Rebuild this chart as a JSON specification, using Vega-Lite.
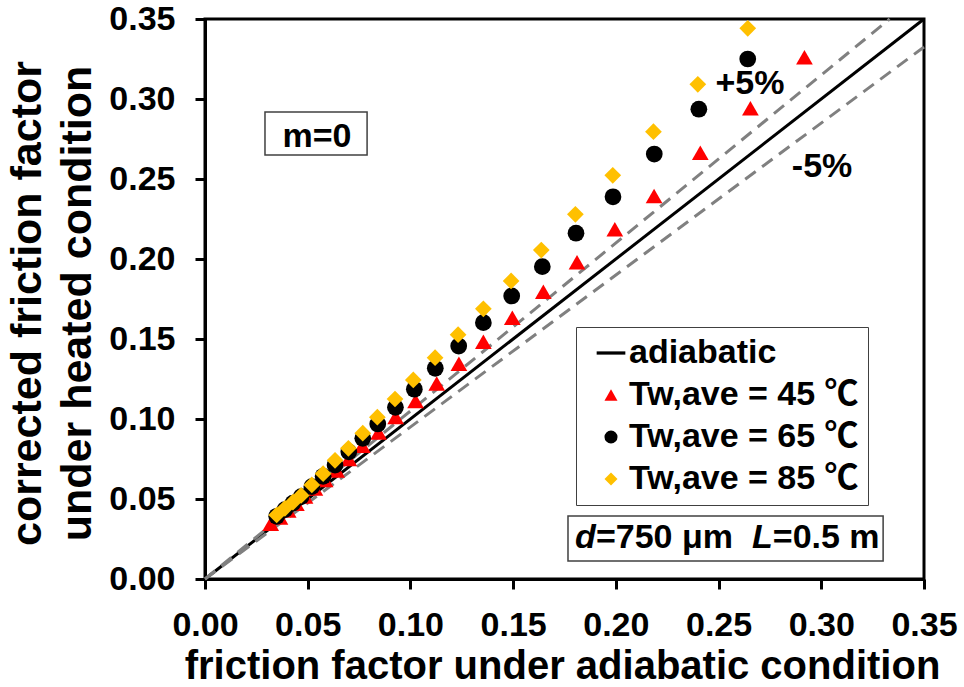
{
  "$schema": "https://vega.github.io/schema/vega-lite/v6.json",
  "width": 719,
  "height": 560,
  "autosize": "none",
  "padding": {"left": 205, "top": 19, "right": 40, "bottom": 108},
  "background": "white",
  "config": {
    "view": {"stroke": "black", "strokeWidth": 3},
    "font": "Liberation Sans",
    "axis": {
      "labelFont": "Liberation Sans",
      "labelFontSize": 34,
      "labelFontWeight": "bold",
      "labelColor": "black",
      "labelFlush": false,
      "labelOverlap": false,
      "titleFont": "Liberation Sans",
      "titleFontWeight": "bold",
      "titleColor": "black",
      "domainColor": "black",
      "domainWidth": 3,
      "tickColor": "black",
      "tickWidth": 3,
      "tickSize": 10,
      "grid": false
    }
  },
  "datasets": {
    "points": [
      {"series": "Tw,ave = 45 ℃", "x": 0.032, "y": 0.0345},
      {"series": "Tw,ave = 45 ℃", "x": 0.0365, "y": 0.0385},
      {"series": "Tw,ave = 45 ℃", "x": 0.0405, "y": 0.0428},
      {"series": "Tw,ave = 45 ℃", "x": 0.0445, "y": 0.047},
      {"series": "Tw,ave = 45 ℃", "x": 0.0487, "y": 0.0515},
      {"series": "Tw,ave = 45 ℃", "x": 0.0535, "y": 0.0565},
      {"series": "Tw,ave = 45 ℃", "x": 0.0585, "y": 0.0618},
      {"series": "Tw,ave = 45 ℃", "x": 0.0641, "y": 0.0678},
      {"series": "Tw,ave = 45 ℃", "x": 0.07, "y": 0.075},
      {"series": "Tw,ave = 45 ℃", "x": 0.0766, "y": 0.0833},
      {"series": "Tw,ave = 45 ℃", "x": 0.0845, "y": 0.0916},
      {"series": "Tw,ave = 45 ℃", "x": 0.0928, "y": 0.1012},
      {"series": "Tw,ave = 45 ℃", "x": 0.1025, "y": 0.1112},
      {"series": "Tw,ave = 45 ℃", "x": 0.1128, "y": 0.1222},
      {"series": "Tw,ave = 45 ℃", "x": 0.1236, "y": 0.1345},
      {"series": "Tw,ave = 45 ℃", "x": 0.1355, "y": 0.1483},
      {"series": "Tw,ave = 45 ℃", "x": 0.1496, "y": 0.1633},
      {"series": "Tw,ave = 45 ℃", "x": 0.1647, "y": 0.1796},
      {"series": "Tw,ave = 45 ℃", "x": 0.1811, "y": 0.1979},
      {"series": "Tw,ave = 45 ℃", "x": 0.1995, "y": 0.2186},
      {"series": "Tw,ave = 45 ℃", "x": 0.2186, "y": 0.2394},
      {"series": "Tw,ave = 45 ℃", "x": 0.2411, "y": 0.2664},
      {"series": "Tw,ave = 45 ℃", "x": 0.2655, "y": 0.2942},
      {"series": "Tw,ave = 45 ℃", "x": 0.2918, "y": 0.3261},
      {"series": "Tw,ave = 65 ℃", "x": 0.0349, "y": 0.0392},
      {"series": "Tw,ave = 65 ℃", "x": 0.0389, "y": 0.0434},
      {"series": "Tw,ave = 65 ℃", "x": 0.0428, "y": 0.0474},
      {"series": "Tw,ave = 65 ℃", "x": 0.0468, "y": 0.0515},
      {"series": "Tw,ave = 65 ℃", "x": 0.052, "y": 0.0577},
      {"series": "Tw,ave = 65 ℃", "x": 0.0575, "y": 0.0642},
      {"series": "Tw,ave = 65 ℃", "x": 0.0633, "y": 0.0712},
      {"series": "Tw,ave = 65 ℃", "x": 0.07, "y": 0.0795},
      {"series": "Tw,ave = 65 ℃", "x": 0.0768, "y": 0.0879},
      {"series": "Tw,ave = 65 ℃", "x": 0.0841, "y": 0.0969},
      {"series": "Tw,ave = 65 ℃", "x": 0.0927, "y": 0.1073},
      {"series": "Tw,ave = 65 ℃", "x": 0.1019, "y": 0.1186},
      {"series": "Tw,ave = 65 ℃", "x": 0.1121, "y": 0.1317},
      {"series": "Tw,ave = 65 ℃", "x": 0.1235, "y": 0.1456},
      {"series": "Tw,ave = 65 ℃", "x": 0.1355, "y": 0.1602},
      {"series": "Tw,ave = 65 ℃", "x": 0.1493, "y": 0.1769},
      {"series": "Tw,ave = 65 ℃", "x": 0.1642, "y": 0.1952},
      {"series": "Tw,ave = 65 ℃", "x": 0.1806, "y": 0.2161},
      {"series": "Tw,ave = 65 ℃", "x": 0.1986, "y": 0.2389},
      {"series": "Tw,ave = 65 ℃", "x": 0.2187, "y": 0.2656},
      {"series": "Tw,ave = 65 ℃", "x": 0.2404, "y": 0.2936},
      {"series": "Tw,ave = 65 ℃", "x": 0.2642, "y": 0.325},
      {"series": "Tw,ave = 85 ℃", "x": 0.0349, "y": 0.04},
      {"series": "Tw,ave = 85 ℃", "x": 0.0389, "y": 0.0442},
      {"series": "Tw,ave = 85 ℃", "x": 0.0428, "y": 0.048},
      {"series": "Tw,ave = 85 ℃", "x": 0.0468, "y": 0.0522},
      {"series": "Tw,ave = 85 ℃", "x": 0.052, "y": 0.0588},
      {"series": "Tw,ave = 85 ℃", "x": 0.0575, "y": 0.0658},
      {"series": "Tw,ave = 85 ℃", "x": 0.0633, "y": 0.0742},
      {"series": "Tw,ave = 85 ℃", "x": 0.0698, "y": 0.0817},
      {"series": "Tw,ave = 85 ℃", "x": 0.0768, "y": 0.0911},
      {"series": "Tw,ave = 85 ℃", "x": 0.0839, "y": 0.1011},
      {"series": "Tw,ave = 85 ℃", "x": 0.0925, "y": 0.1125},
      {"series": "Tw,ave = 85 ℃", "x": 0.1014, "y": 0.1244},
      {"series": "Tw,ave = 85 ℃", "x": 0.112, "y": 0.1383},
      {"series": "Tw,ave = 85 ℃", "x": 0.1232, "y": 0.1527},
      {"series": "Tw,ave = 85 ℃", "x": 0.1355, "y": 0.1689},
      {"series": "Tw,ave = 85 ℃", "x": 0.149, "y": 0.1863},
      {"series": "Tw,ave = 85 ℃", "x": 0.1637, "y": 0.2056},
      {"series": "Tw,ave = 85 ℃", "x": 0.1803, "y": 0.2279},
      {"series": "Tw,ave = 85 ℃", "x": 0.1985, "y": 0.2523},
      {"series": "Tw,ave = 85 ℃", "x": 0.2183, "y": 0.2796},
      {"series": "Tw,ave = 85 ℃", "x": 0.2399, "y": 0.3092},
      {"series": "Tw,ave = 85 ℃", "x": 0.2642, "y": 0.3442}
    ],
    "lines": [
      {"line": "adiabatic", "x": 0, "y": 0},
      {"line": "adiabatic", "x": 0.35, "y": 0.35},
      {"line": "+5%", "x": 0, "y": 0},
      {"line": "+5%", "x": 0.3333, "y": 0.35},
      {"line": "-5%", "x": 0, "y": 0},
      {"line": "-5%", "x": 0.35, "y": 0.3325}
    ],
    "boxes": [
      {"box": "m", "x1": 0.0292, "x2": 0.0789, "y1": 0.2919, "y2": 0.265},
      {"box": "d", "x1": 0.1767, "x2": 0.3301, "y1": 0.0394, "y2": 0.0113}
    ],
    "labels": [
      {"text": "+5%", "x": 0.2653, "y": 0.3094},
      {"text": "-5%", "x": 0.3004, "y": 0.2575},
      {"text": "m=0", "x": 0.0545, "y": 0.2765}
    ],
    "dtext": [
      {"text": "d", "style": "italic", "x": 0.1801, "y": 0.0256},
      {"text": "=750 μm", "style": "normal", "x": 0.1903, "y": 0.0256},
      {"text": "L", "style": "italic", "x": 0.2663, "y": 0.0256},
      {"text": "=0.5 m", "style": "normal", "x": 0.2764, "y": 0.0256}
    ]
  },
  "layer": [
    {
      "data": {"name": "boxes"},
      "mark": {"type": "rect", "fill": "white", "stroke": "#404040", "strokeWidth": 1.5},
      "encoding": {
        "x": {"field": "x1", "type": "quantitative", "scale": {"domain": [0, 0.35], "nice": false}},
        "x2": {"field": "x2"},
        "y": {"field": "y1", "type": "quantitative", "scale": {"domain": [0, 0.35], "nice": false}},
        "y2": {"field": "y2"}
      }
    },
    {
      "data": {"name": "lines"},
      "transform": [{"filter": "datum.line === 'adiabatic'"}],
      "mark": {"type": "line", "color": "black", "strokeWidth": 3},
      "encoding": {
        "x": {"field": "x", "type": "quantitative"},
        "y": {"field": "y", "type": "quantitative"}
      }
    },
    {
      "data": {"name": "lines"},
      "transform": [{"filter": "datum.line !== 'adiabatic'"}],
      "mark": {"type": "line", "color": "#808080", "strokeWidth": 3, "strokeDash": [13, 8]},
      "encoding": {
        "x": {"field": "x", "type": "quantitative"},
        "y": {"field": "y", "type": "quantitative"},
        "detail": {"field": "line"}
      }
    },
    {
      "data": {"name": "points"},
      "mark": {"type": "point", "filled": true, "opacity": 1, "size": 280},
      "encoding": {
        "x": {
          "field": "x", "type": "quantitative",
          "scale": {"domain": [0, 0.35], "nice": false},
          "axis": {
            "values": [0, 0.05, 0.1, 0.15, 0.2, 0.25, 0.3, 0.35],
            "format": ".2f",
            "labelPadding": 19,
            "title": "friction factor under adiabatic condition",
            "titleFontSize": 40,
            "titleBaseline": "alphabetic",
            "titleX": 357,
            "titleY": 99
          }
        },
        "y": {
          "field": "y", "type": "quantitative",
          "scale": {"domain": [0, 0.35], "nice": false},
          "axis": {
            "values": [0, 0.05, 0.1, 0.15, 0.2, 0.25, 0.3, 0.35],
            "format": ".2f",
            "labelPadding": 20,
            "title": ["corrected friction factor", "under heated condition"],
            "titleFontSize": 43,
            "titleLineHeight": 50,
            "titleAngle": -90,
            "titleBaseline": "alphabetic",
            "titleAlign": "center",
            "titleX": -165,
            "titleY": 284
          }
        },
        "color": {
          "field": "series", "type": "nominal",
          "scale": {
            "domain": ["adiabatic", "Tw,ave = 45 ℃", "Tw,ave = 65 ℃", "Tw,ave = 85 ℃"],
            "range": ["black", "#FF0000", "black", "#FFC000"]
          },
          "legend": {
            "title": null, "orient": "none", "legendX": 371, "legendY": 308,
            "strokeColor": "#404040", "fillColor": "white", "padding": 9,
            "labelFont": "Liberation Sans, Noto Sans CJK SC", "labelFontSize": 34, "labelFontWeight": "bold",
            "labelColor": "black", "labelLimit": 500, "symbolSize": 170, "symbolOffset": 9,
            "labelOffset": 1, "rowPadding": 8
          }
        },
        "shape": {
          "field": "series", "type": "nominal",
          "scale": {
            "domain": ["adiabatic", "Tw,ave = 45 ℃", "Tw,ave = 65 ℃", "Tw,ave = 85 ℃"],
            "range": ["M-2.2,-0.25L2.2,-0.25L2.2,0.25L-2.2,0.25Z", "triangle-up", "circle", "diamond"]
          },
          "legend": {
            "title": null, "orient": "none", "legendX": 371, "legendY": 308,
            "strokeColor": "#404040", "fillColor": "white", "padding": 9,
            "labelFont": "Liberation Sans, Noto Sans CJK SC", "labelFontSize": 34, "labelFontWeight": "bold",
            "labelColor": "black", "labelLimit": 500, "symbolSize": 170, "symbolOffset": 9,
            "labelOffset": 1, "rowPadding": 8
          }
        }
      }
    },
    {
      "data": {"name": "labels"},
      "mark": {"type": "text", "font": "Liberation Sans", "fontSize": 34, "fontWeight": "bold", "color": "black", "align": "center", "baseline": "middle"},
      "encoding": {
        "x": {"field": "x", "type": "quantitative"},
        "y": {"field": "y", "type": "quantitative"},
        "text": {"field": "text"}
      }
    },
    {
      "data": {"name": "dtext"},
      "transform": [{"filter": "datum.style === 'normal'"}],
      "mark": {"type": "text", "font": "Liberation Sans", "fontSize": 34, "fontWeight": "bold", "color": "black", "align": "left", "baseline": "middle"},
      "encoding": {
        "x": {"field": "x", "type": "quantitative"},
        "y": {"field": "y", "type": "quantitative"},
        "text": {"field": "text"}
      }
    },
    {
      "data": {"name": "dtext"},
      "transform": [{"filter": "datum.style === 'italic'"}],
      "mark": {"type": "text", "font": "Liberation Sans", "fontSize": 34, "fontWeight": "bold", "fontStyle": "italic", "color": "black", "align": "left", "baseline": "middle"},
      "encoding": {
        "x": {"field": "x", "type": "quantitative"},
        "y": {"field": "y", "type": "quantitative"},
        "text": {"field": "text"}
      }
    }
  ]
}
